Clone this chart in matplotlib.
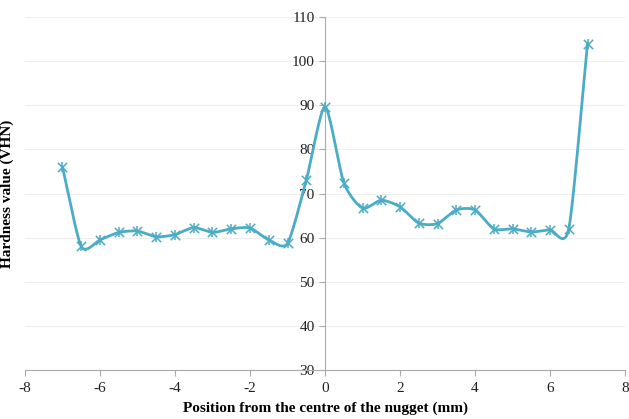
import numpy as np
import matplotlib
matplotlib.use("Agg")
import matplotlib.pyplot as plt

plt.rcParams['font.family'] = ['Liberation Serif', 'DejaVu Serif']
plt.rcParams['axes.unicode_minus'] = False

# hardness measurements across the weld
position = [-7, -6.5, -6, -5.5, -5, -4.5, -4, -3.5, -3, -2.5, -2, -1.5, -1, -0.5,
            0, 0.5, 1, 1.5, 2, 2.5, 3, 3.5, 4, 4.5, 5, 5.5, 6, 6.5, 7]
hardness = [76, 58, 59.5, 61.2, 61.5, 60.2, 60.7, 62.3, 61.2, 62, 62.2, 59.5, 58.7, 73,
            89.7, 72.5, 66.7, 68.5, 67, 63.3, 63.2, 66.3, 66.3, 62, 62, 61.3, 61.8, 62, 104]

x_ticks = [-8, -6, -4, -2, 0, 2, 4, 6, 8]
y_ticks = [30, 40, 50, 60, 70, 80, 90, 100, 110]

color = "#4BACC6"


def smooth(x, y, n=20):
    # catmull-rom style smoothing like the spreadsheet "smoothed line"
    x = np.asarray(x, float)
    y = np.asarray(y, float)
    px = np.concatenate([[2 * x[0] - x[1]], x, [2 * x[-1] - x[-2]]])
    py = np.concatenate([[2 * y[0] - y[1]], y, [2 * y[-1] - y[-2]]])
    xs, ys = [], []
    t = np.linspace(0, 1, n)
    for i in range(1, len(px) - 2):
        for p, out in ((px, xs), (py, ys)):
            p0, p1, p2, p3 = p[i - 1], p[i], p[i + 1], p[i + 2]
            m1 = (p2 - p0) / 2 * 0.7
            m2 = (p3 - p1) / 2 * 0.7
            h00 = 2 * t**3 - 3 * t**2 + 1
            h10 = t**3 - 2 * t**2 + t
            h01 = -2 * t**3 + 3 * t**2
            h11 = t**3 - t**2
            out.extend(h00 * p1 + h10 * m1 + h01 * p2 + h11 * m2)
    return np.array(xs), np.array(ys)


fig = plt.figure(figsize=(6.29, 4.19), dpi=100)
ax = fig.add_axes([0.0397, 0.117, 0.954, 0.842])

sx, sy = smooth(position, hardness)
ax.plot(sx, sy, color=color, lw=2, zorder=3)
ax.scatter(position, hardness, marker="x", s=45, color=color, linewidths=1.1, zorder=4)
ax.scatter(position, hardness, marker="|", s=45, color=color, linewidths=1.1, zorder=4)

ax.set_xlim(-8, 8)
ax.set_ylim(30, 110)
ax.set_xticks(x_ticks)
ax.set_yticks(y_ticks)
ax.yaxis.grid(True, color="#EEEEEE", lw=0.8)
ax.set_axisbelow(True)

ax.spines['left'].set_position(('data', 0))
ax.spines['right'].set_visible(False)
ax.spines['top'].set_visible(False)
ax.spines['left'].set_color("#AAAAAA")
ax.spines['bottom'].set_color("#AAAAAA")
ax.tick_params(axis='both', colors="#AAAAAA", labelcolor="#222222", labelsize=11, length=4)
ax.tick_params(axis='x', pad=5)

ax.set_xlabel("Position from the centre of the nugget (mm)", fontsize=11, fontweight="bold")
ax.set_ylabel("Hardness value (VHN)", fontsize=11, fontweight="bold")
ax.yaxis.set_label_coords(-0.018, 0.5)
ax.xaxis.set_label_coords(0.5, -0.09)

fig.savefig("out.png", dpi=100)
